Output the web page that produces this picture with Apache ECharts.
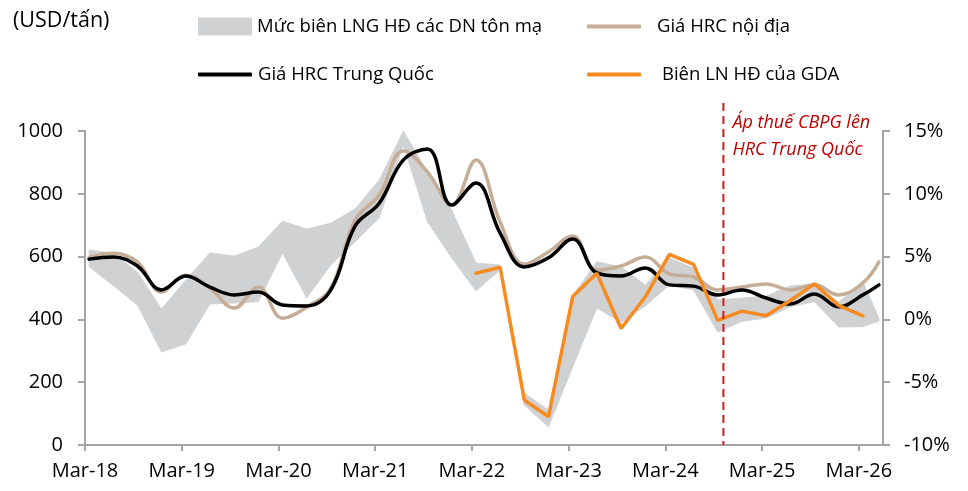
<!DOCTYPE html>
<html>
<head>
<meta charset="utf-8">
<script src="https://cdn.jsdelivr.net/npm/echarts@6/dist/echarts.min.js"></script>
<style>
  html, body { margin: 0; padding: 0; background: #fff; }
  #chart { width: 968px; height: 491px; }
</style>
</head>
<body>
<div id="chart"></div>
<script>
// quarterly observation dates (last one is May-26)
const dates = [
  '2018-03', '2018-06', '2018-09', '2018-12',
  '2019-03', '2019-06', '2019-09', '2019-12',
  '2020-03', '2020-06', '2020-09', '2020-12',
  '2021-03', '2021-06', '2021-09', '2021-12',
  '2022-03', '2022-06', '2022-09', '2022-12',
  '2023-03', '2023-06', '2023-09', '2023-12',
  '2024-03', '2024-06', '2024-09', '2024-12',
  '2025-03', '2025-06', '2025-09', '2025-12',
  '2026-03', '2026-05'
];

// USD/tấn
const hrcChina = [592, 599, 570, 494, 538, 503, 478, 487, 446, 443, 494, 697, 770, 908, 943, 764,
  834, 675, 567, 596, 656, 548, 538, 564, 510, 506, 478, 494, 468, 449, 481, 440, 478, 510];
const hrcDomestic = [597, 611, 583, 487, 541, 500, 436, 503, 404, 439, 500, 716, 796, 936, 869, 764,
  908, 710, 576, 615, 666, 557, 570, 599, 545, 535, 494, 503, 513, 494, 510, 478, 516, 583];

// %
const gdaMargin = [null, null, null, null, null, null, null, null, null, null, null, null, null, null, null, null,
  3.67, 4.15, -6.42, -7.75, 1.82, 3.67, -0.72, 1.78, 5.17, 4.38, -0.08, 0.66, 0.29, 1.51, 2.83, 1.11, 0.28, null];
const bandHigh = [5.52, 5.28, 3.77, 0.83, 3.13, 5.31, 5.04, 5.76, 7.83, 7.19, 7.67, 8.79, 11.09, 15.0, 11.73, 8.71,
  4.49, 4.33, -5.86, -7.21, 1.86, 4.59, 4.19, 2.74, 4.89, 4.09, 1.54, 1.70, 1.86, 2.66, 2.82, 1.38, 3.0, 0.11];
const bandLow = [4.19, 2.70, 1.14, -2.60, -1.96, 1.22, 1.30, 1.41, 5.28, 1.70, 4.33, 6.16, 8.07, 13.88, 7.75, 4.89,
  2.26, 3.93, -6.82, -8.57, -3.79, 0.91, -0.24, 1.06, 2.74, 2.34, -1.01, -0.16, 0.11, 1.01, 1.41, -0.61, -0.58, -0.13];

const tickLabels = ['Mar-18', 'Mar-19', 'Mar-20', 'Mar-21', 'Mar-22', 'Mar-23', 'Mar-24', 'Mar-25', 'Mar-26'];
const dutyDate = '2024-10-07';

const NAME_BAND = 'Mức biên LNG HĐ các DN tôn mạ';
const NAME_DOM = 'Giá HRC nội địa';
const NAME_CN = 'Giá HRC Trung Quốc';
const NAME_GDA = 'Biên LN HĐ của GDA';

// months since Mar-18 (mid-month when no day given)
function monthPos(s) {
  const [y, m, d] = s.split('-').map(Number);
  return (y - 2018) * 12 + (m - 3) + ((d || 16) - 1) / 30;
}

const xs = dates.map(monthPos);
const tickValues = tickLabels.map((_, i) => i * 12);
const pair = (arr) => arr.map((v, i) => [xs[i], v]);

const font = '"Open Sans", "Noto Sans", sans-serif';
const axisGray = '#a5a5a5';
const bandColor = '#d0d1d3';
const tanColor = '#c6ad97';
const orangeColor = '#f68b1f';

function legendAt(left, top, item, height, textPad) {
  return {
    left: left,
    top: top,
    itemWidth: 54,
    itemHeight: height,
    textStyle: { fontFamily: font, fontSize: 18.5, color: '#000', padding: [0, 0, 0, textPad] },
    data: [item]
  };
}

const chart = echarts.init(document.getElementById('chart'));

const option = {
  animation: false,
  title: {
    text: '(USD/tấn)',
    left: 8,
    top: 5,
    textStyle: { fontFamily: font, fontSize: 21.5, fontWeight: 'normal', color: '#000' }
  },
  legend: [
    legendAt(193, 12, { name: NAME_BAND, icon: 'rect', itemStyle: { color: bandColor } }, 18, 0),
    legendAt(193, 60, { name: NAME_CN, icon: 'roundRect', itemStyle: { color: '#000' } }, 4, 1),
    legendAt(582, 12, { name: NAME_DOM, icon: 'roundRect', itemStyle: { color: tanColor } }, 4, 11),
    legendAt(582, 60, { name: NAME_GDA, icon: 'roundRect', itemStyle: { color: orangeColor } }, 4, 16)
  ],
  grid: { left: 85, right: 85, top: 131, bottom: 46 },
  xAxis: {
    type: 'value',
    min: 0,
    max: 99,
    splitLine: { show: false },
    axisLine: { lineStyle: { color: axisGray, width: 2 } },
    axisTick: { show: true, length: 6, customValues: tickValues, lineStyle: { color: axisGray, width: 2 } },
    axisLabel: {
      customValues: tickValues,
      margin: 16,
      fontFamily: font,
      fontSize: 20,
      color: '#000',
      formatter: (v) => tickLabels[Math.round(v / 12)] || ''
    }
  },
  yAxis: [
    {
      type: 'value',
      min: 0,
      max: 1000,
      interval: 200,
      splitLine: { show: false },
      axisLine: { show: true, lineStyle: { color: axisGray, width: 2 } },
      axisTick: { show: true, length: 7, lineStyle: { color: axisGray, width: 2 } },
      axisLabel: { margin: 22, fontFamily: font, fontSize: 20, color: '#000', formatter: (v) => String(v) }
    },
    {
      type: 'value',
      min: -10,
      max: 15,
      interval: 5,
      splitLine: { show: false },
      axisLine: { show: true, lineStyle: { color: axisGray, width: 2 } },
      axisTick: { show: true, length: 7, lineStyle: { color: axisGray, width: 2 } },
      axisLabel: { margin: 21, fontFamily: font, fontSize: 20, color: '#000', formatter: '{value}%' }
    }
  ],
  series: [
    {
      // min-max band of peers' operating margin, one quad per period
      name: NAME_BAND,
      type: 'custom',
      yAxisIndex: 1,
      itemStyle: { color: bandColor },
      data: bandLow.map((v, i) => [xs[i], v, bandHigh[i]]),
      encode: { x: 0, y: [1, 2] },
      renderItem: (params, api) => {
        const i = params.dataIndex;
        if (i >= xs.length - 1) return { type: 'group', children: [] };
        const pts = [
          api.coord([xs[i], bandHigh[i]]),
          api.coord([xs[i + 1], bandHigh[i + 1]]),
          api.coord([xs[i + 1], bandLow[i + 1]]),
          api.coord([xs[i], bandLow[i]])
        ];
        return {
          type: 'polygon',
          shape: { points: pts },
          style: { fill: bandColor, stroke: bandColor, lineWidth: 0.8 }
        };
      },
      z: 1
    },
    {
      name: NAME_DOM,
      type: 'line',
      yAxisIndex: 0,
      symbol: 'none',
      smooth: 0.4,
      itemStyle: { color: tanColor },
      lineStyle: { color: tanColor, width: 3.5, cap: 'round' },
      data: pair(hrcDomestic),
      z: 2
    },
    {
      name: NAME_CN,
      type: 'line',
      yAxisIndex: 0,
      symbol: 'none',
      smooth: 0.4,
      itemStyle: { color: '#000' },
      lineStyle: { color: '#000', width: 3.5, cap: 'round' },
      data: pair(hrcChina),
      z: 3
    },
    {
      name: NAME_GDA,
      type: 'line',
      yAxisIndex: 1,
      symbol: 'none',
      itemStyle: { color: orangeColor },
      lineStyle: { color: orangeColor, width: 3.5, cap: 'round' },
      data: pair(gdaMargin),
      z: 4
    }
  ]
};

chart.setOption(option);

// vertical dashed marker for the anti-dumping duty, placed through the axis scale
const dutyX = chart.convertToPixel({ xAxisIndex: 0 }, monthPos(dutyDate));
const baseY = chart.convertToPixel({ yAxisIndex: 0 }, 0);

chart.setOption({
  graphic: [
    {
      type: 'line',
      shape: { x1: dutyX, y1: 103, x2: dutyX, y2: baseY },
      style: { stroke: '#d7191c', lineWidth: 2, lineDash: [8, 5] },
      z: 10
    },
    {
      type: 'text',
      x: dutyX + 9,
      y: 109,
      style: {
        text: 'Áp thuế CBPG lên\nHRC Trung Quốc',
        fill: '#c00000',
        font: 'italic 18px "Open Sans", "Noto Sans", sans-serif',
        lineHeight: 27
      },
      z: 10
    }
  ]
});
</script>
</body>
</html>
